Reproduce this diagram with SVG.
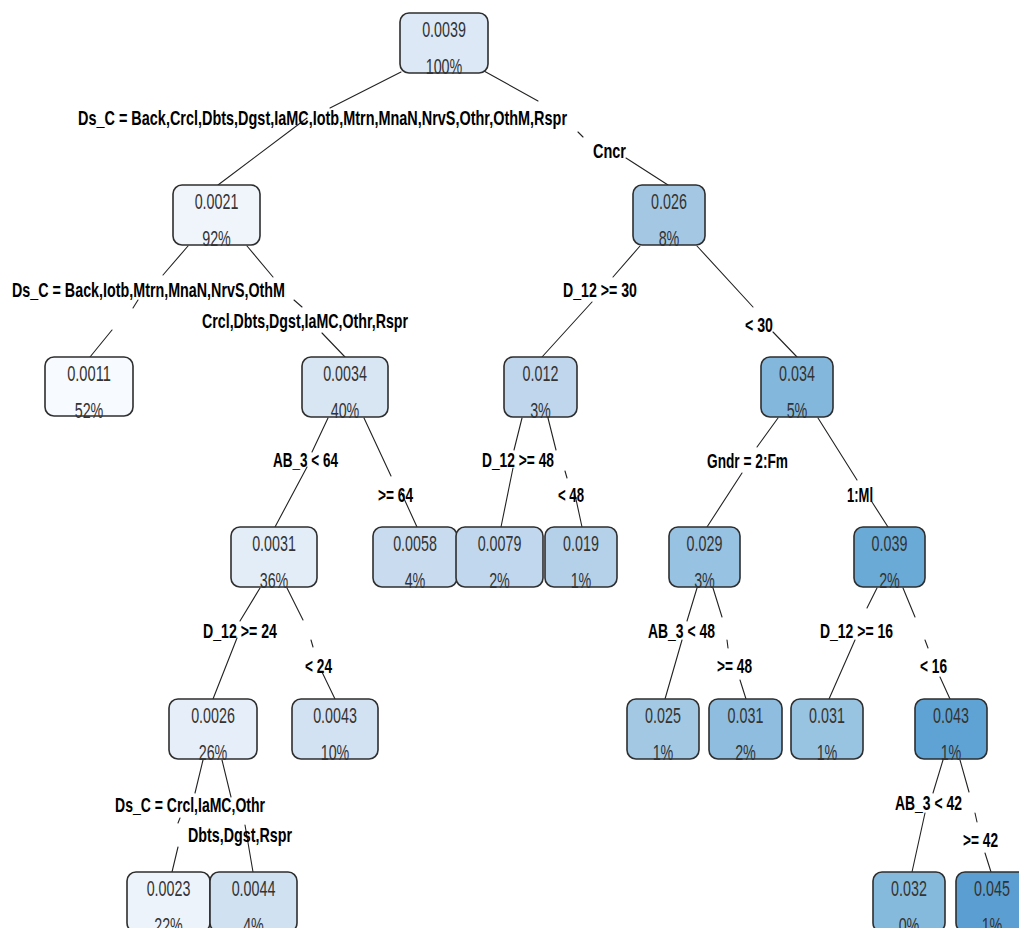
<svg xmlns="http://www.w3.org/2000/svg" width="1019" height="928" viewBox="0 0 1019 928">
<style>
.box{stroke:#2e2e2e;stroke-width:1.6}
.nt{font-family:"Liberation Sans",Arial,sans-serif;font-size:22px;fill:#333;text-anchor:middle}
.lb{font-family:"Liberation Sans",Arial,sans-serif;font-size:21px;font-weight:bold;fill:#000}
.ln{stroke:#222;stroke-width:1.1;fill:none;stroke-linecap:round}
</style>
<rect width="1019" height="928" fill="#fff"/>
<g id="connectors">
<path class="ln" d="M401,72L330,108M307,118L218,185"/>
<path class="ln" d="M484,71L538,101M578,132L583,137M626,158L668,185"/>
<path class="ln" d="M188,246L163,275M138,300L133,308M112,330L90,357"/>
<path class="ln" d="M247,246L273,277M294,300L302,307M322,333L345,357"/>
<path class="ln" d="M640,246L613,277M592,302L542,357"/>
<path class="ln" d="M697,246L753,307M773,332L797,357"/>
<path class="ln" d="M328,418L312,452M307,467L275,527"/>
<path class="ln" d="M364,418L391,476M401,492L417,527"/>
<path class="ln" d="M522,418L514,450M513,468L501,527"/>
<path class="ln" d="M548,418L556,450M565,471L567,478M574,490L582,527"/>
<path class="ln" d="M778,418L757,447M742,473L707,527"/>
<path class="ln" d="M818,418L857,480M872,502L888,527"/>
<path class="ln" d="M260,588L240,621M237,638L213,699"/>
<path class="ln" d="M287,588L303,620M311,640L313,647M322,672L335,699"/>
<path class="ln" d="M697,588L687,621M682,640L665,699"/>
<path class="ln" d="M713,588L722,617M727,640L728,648M740,680L746,699"/>
<path class="ln" d="M877,588L867,608M855,640L829,699"/>
<path class="ln" d="M903,588L915,617M925,640L928,648M940,677L950,699"/>
<path class="ln" d="M943,760L933,793M925,813L912,872"/>
<path class="ln" d="M960,760L969,792M975,813L977,822M985,853L991,872"/>
<path class="ln" d="M203,760L195,793M180,818L178,823M178,847L172,872"/>
<path class="ln" d="M222,760L231,797M245,825L253,872"/>
</g>
<g id="labels">
<text class="lb" x="78" y="125" textLength="489" lengthAdjust="spacingAndGlyphs">Ds_C = Back,Crcl,Dbts,Dgst,IaMC,Iotb,Mtrn,MnaN,NrvS,Othr,OthM,Rspr</text>
<text class="lb" x="593" y="158" textLength="33" lengthAdjust="spacingAndGlyphs">Cncr</text>
<text class="lb" x="12" y="297" textLength="273" lengthAdjust="spacingAndGlyphs">Ds_C = Back,Iotb,Mtrn,MnaN,NrvS,OthM</text>
<text class="lb" x="202" y="328" textLength="206" lengthAdjust="spacingAndGlyphs">Crcl,Dbts,Dgst,IaMC,Othr,Rspr</text>
<text class="lb" x="563" y="297" textLength="74" lengthAdjust="spacingAndGlyphs">D_12 &gt;= 30</text>
<text class="lb" x="745" y="332" textLength="28" lengthAdjust="spacingAndGlyphs">&lt; 30</text>
<text class="lb" x="273" y="467" textLength="65" lengthAdjust="spacingAndGlyphs">AB_3 &lt; 64</text>
<text class="lb" x="378" y="502" textLength="35" lengthAdjust="spacingAndGlyphs">&gt;= 64</text>
<text class="lb" x="482" y="467" textLength="72" lengthAdjust="spacingAndGlyphs">D_12 &gt;= 48</text>
<text class="lb" x="558" y="502" textLength="26" lengthAdjust="spacingAndGlyphs">&lt; 48</text>
<text class="lb" x="707" y="468" textLength="81" lengthAdjust="spacingAndGlyphs">Gndr = 2:Fm</text>
<text class="lb" x="847" y="502" textLength="26" lengthAdjust="spacingAndGlyphs">1:Ml</text>
<text class="lb" x="203" y="638" textLength="74" lengthAdjust="spacingAndGlyphs">D_12 &gt;= 24</text>
<text class="lb" x="305" y="673" textLength="27" lengthAdjust="spacingAndGlyphs">&lt; 24</text>
<text class="lb" x="648" y="638" textLength="67" lengthAdjust="spacingAndGlyphs">AB_3 &lt; 48</text>
<text class="lb" x="717" y="673" textLength="35" lengthAdjust="spacingAndGlyphs">&gt;= 48</text>
<text class="lb" x="820" y="638" textLength="73" lengthAdjust="spacingAndGlyphs">D_12 &gt;= 16</text>
<text class="lb" x="920" y="673" textLength="27" lengthAdjust="spacingAndGlyphs">&lt; 16</text>
<text class="lb" x="115" y="812" textLength="150" lengthAdjust="spacingAndGlyphs">Ds_C = Crcl,IaMC,Othr</text>
<text class="lb" x="188" y="842" textLength="104" lengthAdjust="spacingAndGlyphs">Dbts,Dgst,Rspr</text>
<text class="lb" x="895" y="810" textLength="67" lengthAdjust="spacingAndGlyphs">AB_3 &lt; 42</text>
<text class="lb" x="963" y="847" textLength="35" lengthAdjust="spacingAndGlyphs">&gt;= 42</text>
</g>
<g id="n1"><rect class="box" x="400" y="13" width="88" height="60" rx="9" fill="#dce8f5"/><text class="nt" x="444" y="37" textLength="43.7" lengthAdjust="spacingAndGlyphs">0.0039</text><text class="nt" x="444" y="74" textLength="36.6" lengthAdjust="spacingAndGlyphs">100%</text></g>
<g id="n2"><rect class="box" x="173" y="185" width="87" height="60" rx="9" fill="#f0f5fc"/><text class="nt" x="216.5" y="209" textLength="43.7" lengthAdjust="spacingAndGlyphs">0.0021</text><text class="nt" x="216.5" y="246" textLength="28.6" lengthAdjust="spacingAndGlyphs">92%</text></g>
<g id="n3"><rect class="box" x="633" y="185" width="72" height="60" rx="9" fill="#a4c8e4"/><text class="nt" x="669" y="209" textLength="35.8" lengthAdjust="spacingAndGlyphs">0.026</text><text class="nt" x="669" y="246" textLength="20.7" lengthAdjust="spacingAndGlyphs">8%</text></g>
<g id="n4"><rect class="box" x="45" y="357" width="88" height="59" rx="9" fill="#f7fafe"/><text class="nt" x="89" y="381" textLength="43.7" lengthAdjust="spacingAndGlyphs">0.0011</text><text class="nt" x="89" y="418" textLength="28.6" lengthAdjust="spacingAndGlyphs">52%</text></g>
<g id="n5"><rect class="box" x="302" y="357" width="86" height="60" rx="9" fill="#d8e5f3"/><text class="nt" x="345" y="381" textLength="43.7" lengthAdjust="spacingAndGlyphs">0.0034</text><text class="nt" x="345" y="418" textLength="28.6" lengthAdjust="spacingAndGlyphs">40%</text></g>
<g id="n6"><rect class="box" x="504" y="357" width="73" height="60" rx="9" fill="#c0d6ed"/><text class="nt" x="540.5" y="381" textLength="35.8" lengthAdjust="spacingAndGlyphs">0.012</text><text class="nt" x="540.5" y="418" textLength="20.7" lengthAdjust="spacingAndGlyphs">3%</text></g>
<g id="n7"><rect class="box" x="761" y="357" width="72" height="60" rx="9" fill="#83b8dc"/><text class="nt" x="797" y="381" textLength="35.8" lengthAdjust="spacingAndGlyphs">0.034</text><text class="nt" x="797" y="418" textLength="20.7" lengthAdjust="spacingAndGlyphs">5%</text></g>
<g id="n8"><rect class="box" x="231" y="527" width="86" height="60" rx="9" fill="#e3edf8"/><text class="nt" x="274" y="551" textLength="43.7" lengthAdjust="spacingAndGlyphs">0.0031</text><text class="nt" x="274" y="588" textLength="28.6" lengthAdjust="spacingAndGlyphs">36%</text></g>
<g id="n9"><rect class="box" x="373" y="527" width="84" height="60" rx="9" fill="#c9dcef"/><text class="nt" x="415" y="551" textLength="43.7" lengthAdjust="spacingAndGlyphs">0.0058</text><text class="nt" x="415" y="588" textLength="20.7" lengthAdjust="spacingAndGlyphs">4%</text></g>
<g id="n10"><rect class="box" x="456" y="527" width="87" height="60" rx="9" fill="#c1d7ee"/><text class="nt" x="499.5" y="551" textLength="43.7" lengthAdjust="spacingAndGlyphs">0.0079</text><text class="nt" x="499.5" y="588" textLength="20.7" lengthAdjust="spacingAndGlyphs">2%</text></g>
<g id="n11"><rect class="box" x="545" y="527" width="72" height="60" rx="9" fill="#b5d1ea"/><text class="nt" x="581" y="551" textLength="35.8" lengthAdjust="spacingAndGlyphs">0.019</text><text class="nt" x="581" y="588" textLength="20.7" lengthAdjust="spacingAndGlyphs">1%</text></g>
<g id="n12"><rect class="box" x="669" y="527" width="71" height="60" rx="9" fill="#97c2e1"/><text class="nt" x="704.5" y="551" textLength="35.8" lengthAdjust="spacingAndGlyphs">0.029</text><text class="nt" x="704.5" y="588" textLength="20.7" lengthAdjust="spacingAndGlyphs">3%</text></g>
<g id="n13"><rect class="box" x="854" y="527" width="71" height="60" rx="9" fill="#6aaad6"/><text class="nt" x="889.5" y="551" textLength="35.8" lengthAdjust="spacingAndGlyphs">0.039</text><text class="nt" x="889.5" y="588" textLength="20.7" lengthAdjust="spacingAndGlyphs">2%</text></g>
<g id="n14"><rect class="box" x="169" y="699" width="88" height="60" rx="9" fill="#e6eff9"/><text class="nt" x="213" y="723" textLength="43.7" lengthAdjust="spacingAndGlyphs">0.0026</text><text class="nt" x="213" y="760" textLength="28.6" lengthAdjust="spacingAndGlyphs">26%</text></g>
<g id="n15"><rect class="box" x="292" y="699" width="86" height="60" rx="9" fill="#d3e2f2"/><text class="nt" x="335" y="723" textLength="43.7" lengthAdjust="spacingAndGlyphs">0.0043</text><text class="nt" x="335" y="760" textLength="28.6" lengthAdjust="spacingAndGlyphs">10%</text></g>
<g id="n16"><rect class="box" x="627" y="699" width="72" height="60" rx="9" fill="#a2c8e4"/><text class="nt" x="663" y="723" textLength="35.8" lengthAdjust="spacingAndGlyphs">0.025</text><text class="nt" x="663" y="760" textLength="20.7" lengthAdjust="spacingAndGlyphs">1%</text></g>
<g id="n17"><rect class="box" x="709" y="699" width="73" height="60" rx="9" fill="#8ebddf"/><text class="nt" x="745.5" y="723" textLength="35.8" lengthAdjust="spacingAndGlyphs">0.031</text><text class="nt" x="745.5" y="760" textLength="20.7" lengthAdjust="spacingAndGlyphs">2%</text></g>
<g id="n18"><rect class="box" x="791" y="699" width="72" height="60" rx="9" fill="#98c4e2"/><text class="nt" x="827" y="723" textLength="35.8" lengthAdjust="spacingAndGlyphs">0.031</text><text class="nt" x="827" y="760" textLength="20.7" lengthAdjust="spacingAndGlyphs">1%</text></g>
<g id="n19"><rect class="box" x="915" y="699" width="72" height="60" rx="9" fill="#5ea3d4"/><text class="nt" x="951" y="723" textLength="35.8" lengthAdjust="spacingAndGlyphs">0.043</text><text class="nt" x="951" y="760" textLength="20.7" lengthAdjust="spacingAndGlyphs">1%</text></g>
<g id="n20"><rect class="box" x="127" y="872" width="83" height="60" rx="9" fill="#edf3fb"/><text class="nt" x="168.5" y="896" textLength="43.7" lengthAdjust="spacingAndGlyphs">0.0023</text><text class="nt" x="168.5" y="933" textLength="28.6" lengthAdjust="spacingAndGlyphs">22%</text></g>
<g id="n21"><rect class="box" x="210" y="872" width="87" height="60" rx="9" fill="#d0e1f2"/><text class="nt" x="253.5" y="896" textLength="43.7" lengthAdjust="spacingAndGlyphs">0.0044</text><text class="nt" x="253.5" y="933" textLength="20.7" lengthAdjust="spacingAndGlyphs">4%</text></g>
<g id="n22"><rect class="box" x="873" y="872" width="72" height="60" rx="9" fill="#86badd"/><text class="nt" x="909" y="896" textLength="35.8" lengthAdjust="spacingAndGlyphs">0.032</text><text class="nt" x="909" y="933" textLength="20.7" lengthAdjust="spacingAndGlyphs">0%</text></g>
<g id="n23"><rect class="box" x="956" y="872" width="72" height="60" rx="9" fill="#5b9fd2"/><text class="nt" x="992" y="896" textLength="35.8" lengthAdjust="spacingAndGlyphs">0.045</text><text class="nt" x="992" y="933" textLength="20.7" lengthAdjust="spacingAndGlyphs">1%</text></g>
</svg>
